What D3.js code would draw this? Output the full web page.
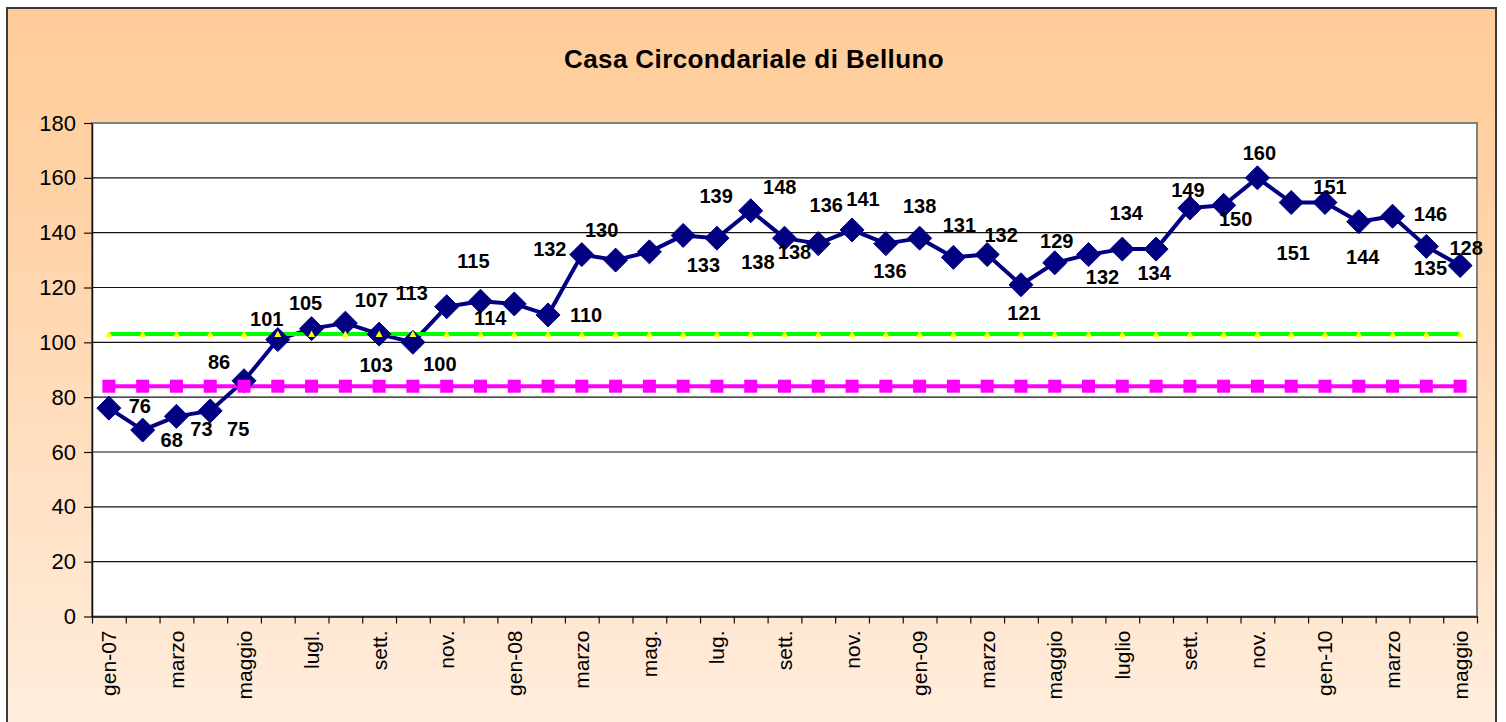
<!DOCTYPE html>
<html>
<head>
<meta charset="utf-8">
<script src="https://cdn.jsdelivr.net/npm/d3@7"></script>
<style>
  html, body { margin: 0; padding: 0; background: #ffffff; }
  svg { display: block; font-family: Arial, "Liberation Sans", sans-serif; }
</style>
</head>
<body>
<svg id="chart" width="1506" height="722"></svg>
<script>
// ---- data ----
const title = "Casa Circondariale di Belluno";
const categories = [
  "gen-07","febbr.","marzo","aprile","maggio","giugno","lugl.","agosto","sett.","ott.","nov.","dic.",
  "gen-08","febbr.","marzo","aprile","mag.","giugno","lug.","agosto","sett.","ott.","nov.","dic.",
  "gen-09","febbr.","marzo","aprile","maggio","giugno","luglio","agosto","sett.","ott.","nov.","dic.",
  "gen-10","febbr.","marzo","aprile","maggio"
];
const tickLabels = ["gen-07","marzo","maggio","lugl.","sett.","nov.","gen-08","marzo","mag.","lug.","sett.",
  "nov.","gen-09","marzo","maggio","luglio","sett.","nov.","gen-10","marzo","maggio"];
const presenze = [76,68,73,75,86,101,105,107,103,100,113,115,114,110,132,130,133,139,138,148,138,136,141,136,
  138,131,132,121,129,132,134,134,149,150,160,151,151,144,146,135,128];
const capienzaTollerabile = categories.map(() => 103);
const capienzaRegolamentare = categories.map(() => 84);
const yTicks = [0,20,40,60,80,100,120,140,160,180];

// label placement offsets (layout only), relative to each point
const labelOffsets = [
  [31,-2],[29,10],[25,13],[28,18],[-25,-19],[-11,-21],[-6,-26],[26,-23],[-3,31],[27,22],
  [-35,-14],[-7,-40],[-24,14],[38,0],[-32,-6],[-14,-30],[54,13],[33,-39],[41,24],[29,-24],
  [10,14],[8,-39],[11,-31],[4,27],[0,-32],[6,-32],[14,-20],[3,28],[2,-22],[14,22],
  [4,-36],[-2,24],[-2,-18],[12,14],[2,-25],[2,50],[5,-16],[4,35],[38,-2],[4,22],[6,-18]
];

// ---- layout ----
const svg = d3.select("#chart");
const plot = { left: 92, right: 1477, top: 123, bottom: 616.5 };

const defs = svg.append("defs");
const grad = defs.append("linearGradient").attr("id","bg").attr("x1",0).attr("y1",0).attr("x2",0).attr("y2",1);
grad.append("stop").attr("offset","0%").attr("stop-color","#FFCC99");
grad.append("stop").attr("offset","30%").attr("stop-color","#FFD3A8");
grad.append("stop").attr("offset","100%").attr("stop-color","#FFEEDF");

svg.append("rect").attr("x",7).attr("y",8).attr("width",1489).attr("height",730)
  .attr("fill","url(#bg)").attr("stroke","#3a3a3a").attr("stroke-width",2);

svg.append("text").attr("x",754).attr("y",59).attr("text-anchor","middle")
  .attr("dominant-baseline","central").attr("letter-spacing",0.4)
  .attr("font-size",26).attr("font-weight","bold").attr("fill","#000").text(title);

const xb = d3.scaleLinear().domain([0, categories.length]).range([plot.left, plot.right]);
const y = d3.scaleLinear().domain([0,180]).range([plot.bottom, plot.top]);
const px = i => xb(i + 0.5);

// plot area
svg.append("rect").attr("x",plot.left).attr("y",plot.top)
  .attr("width",plot.right-plot.left).attr("height",plot.bottom-plot.top)
  .attr("fill","#ffffff").attr("stroke","#808080").attr("stroke-width",2);

// gridlines
svg.append("g").selectAll("line").data(yTicks.filter(t => t > 0 && t < 180)).join("line")
  .attr("x1",plot.left).attr("x2",plot.right)
  .attr("y1",d => y(d)).attr("y2",d => y(d))
  .attr("stroke","#111").attr("stroke-width",1.2);

// y axis
const yAxis = svg.append("g").attr("transform",`translate(${plot.left},0)`)
  .call(d3.axisLeft(y).tickValues(yTicks).tickSize(8).tickPadding(8).tickSizeOuter(0));
yAxis.select(".domain").attr("stroke","#111").attr("stroke-width",1.5);
yAxis.selectAll(".tick line").attr("stroke","#111").attr("stroke-width",1.2);
yAxis.selectAll(".tick text").attr("font-size",22).attr("fill","#000")
  .attr("font-family","Arial, 'Liberation Sans', sans-serif");

// x axis
const xAxis = svg.append("g").attr("transform",`translate(0,${plot.bottom})`)
  .call(d3.axisBottom(xb).tickValues(d3.range(0, categories.length + 1)).tickSize(7)
    .tickFormat("").tickSizeOuter(0));
xAxis.select(".domain").attr("stroke","#111").attr("stroke-width",1.5);
xAxis.selectAll(".tick line").attr("stroke","#111").attr("stroke-width",1.2);

svg.append("g").selectAll("text").data(tickLabels).join("text")
  .attr("transform",(d,k) => `translate(${px(k*2)},${plot.bottom + 14}) rotate(-90)`)
  .attr("text-anchor","end").attr("dominant-baseline","central")
  .attr("font-size",21).attr("fill","#000").text(d => d);

// lines
const line = d3.line().x((d,i) => px(i)).y(d => y(d));
svg.append("path").datum(presenze).attr("d",line)
  .attr("fill","none").attr("stroke","#000080").attr("stroke-width",4).attr("stroke-linejoin","round");
svg.append("path").datum(capienzaTollerabile).attr("d",line)
  .attr("fill","none").attr("stroke","#00FF00").attr("stroke-width",4);
svg.append("path").datum(capienzaRegolamentare).attr("d",line)
  .attr("fill","none").attr("stroke","#FF00FF").attr("stroke-width",4);

// markers
const dia = 12;
svg.append("g").selectAll("path").data(presenze).join("path")
  .attr("d",(d,i) => {
    const cx = px(i), cy = y(d);
    return `M${cx},${cy-dia}L${cx+dia},${cy}L${cx},${cy+dia}L${cx-dia},${cy}Z`;
  })
  .attr("fill","#000080").attr("stroke","#000080").attr("stroke-width",1);

svg.append("g").selectAll("path").data(capienzaTollerabile).join("path")
  .attr("d",(d,i) => {
    const cx = px(i), cy = y(d);
    return `M${cx},${cy-3.5}L${cx+3.5},${cy+2.8}L${cx-3.5},${cy+2.8}Z`;
  })
  .attr("fill","#FFFF00");

svg.append("g").selectAll("rect").data(capienzaRegolamentare).join("rect")
  .attr("x",(d,i) => px(i) - 6.5).attr("y",d => y(d) - 6.5)
  .attr("width",13).attr("height",13).attr("fill","#FF00FF");

// data labels
svg.append("g").selectAll("text").data(presenze).join("text")
  .attr("x",(d,i) => px(i) + labelOffsets[i][0])
  .attr("y",(d,i) => y(d) + labelOffsets[i][1])
  .attr("text-anchor","middle").attr("dominant-baseline","central")
  .attr("font-size",20).attr("font-weight","bold").attr("fill","#000")
  .text(d => d);
</script>
</body>
</html>
